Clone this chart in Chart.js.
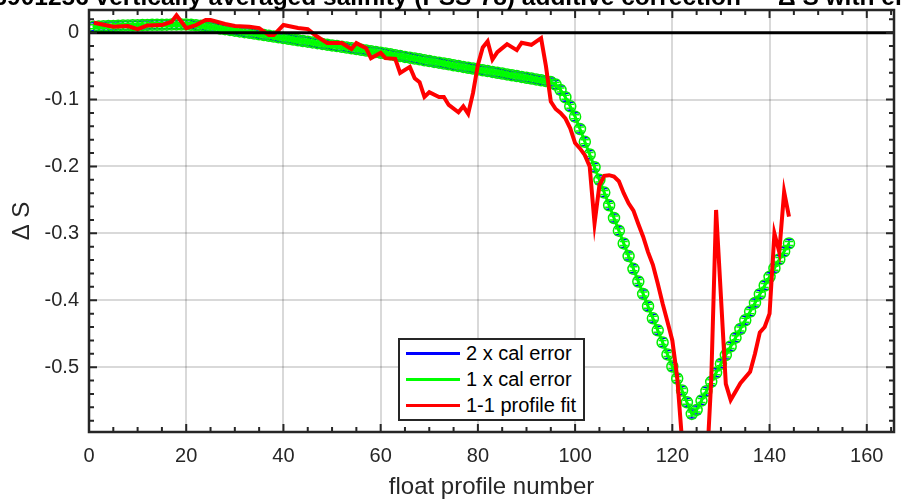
<!DOCTYPE html>
<html>
<head>
<meta charset="utf-8">
<script src="https://cdn.jsdelivr.net/npm/chart.js@4.4.1/dist/chart.umd.min.js"></script>
<style>
html, body { margin: 0; padding: 0; background: #fff; }
#wrap { position: relative; width: 901px; height: 504px; overflow: hidden; }
#legend {
    position: absolute; left: 398px; top: 338px; width: 187px; height: 83px;
    box-sizing: border-box; border: 2.5px solid #262626; background: #fff;
    font: 20px 'Liberation Sans', Arial, sans-serif; color: #000;
}
#legend .item { display: flex; align-items: center; height: 26px; white-space: nowrap; }
#legend .swatch { display: inline-block; width: 54px; height: 3px; margin-left: 6px; margin-right: 6px; }
</style>
</head>
<body>
<div id="wrap">
    <canvas id="chart" width="901" height="504"></canvas>
    <div id="legend"></div>
</div>
<script>
const FONT = "'Liberation Sans', Arial, sans-serif";

// axis limits and ticks
const X_MIN = 0;
const X_MAX = 165.6;
const Y_MIN = -0.597;
const Y_MAX = 0.034;
const xTickValues = [0, 5, 10, 15, 20, 25, 30, 35, 40, 45, 50, 55, 60, 65, 70, 75, 80, 85, 90, 95, 100,
    105, 110, 115, 120, 125, 130, 135, 140, 145, 150, 155, 160, 165];
const yTickValues = [-0.58, -0.56, -0.54, -0.52, -0.5, -0.48, -0.46, -0.44, -0.42, -0.4, -0.38, -0.36, -0.34,
    -0.32, -0.3, -0.28, -0.26, -0.24, -0.22, -0.2, -0.18, -0.16, -0.14, -0.12, -0.1, -0.08, -0.06, -0.04,
    -0.02, 0, 0.02];

// calibration curve (one value per float profile)
const profileNo = [1, 2, 3, 4, 5, 6, 7, 8, 9, 10, 11, 12, 13, 14, 15, 16, 17, 18, 19, 20, 21, 22, 23, 24, 25,
    26, 27, 28, 29, 30, 31, 32, 33, 34, 35, 36, 37, 38, 39, 40, 41, 42, 43, 44, 45, 46, 47, 48, 49, 50, 51, 52,
    53, 54, 55, 56, 57, 58, 59, 60, 61, 62, 63, 64, 65, 66, 67, 68, 69, 70, 71, 72, 73, 74, 75, 76, 77, 78, 79,
    80, 81, 82, 83, 84, 85, 86, 87, 88, 89, 90, 91, 92, 93, 94, 95, 96, 97, 98, 99, 100, 101, 102, 103, 104,
    105, 106, 107, 108, 109, 110, 111, 112, 113, 114, 115, 116, 117, 118, 119, 120, 121, 122, 123, 124, 125,
    126, 127, 128, 129, 130, 131, 132, 133, 134, 135, 136, 137, 138, 139, 140, 141, 142, 143, 144];
const calMean = [
    0.0090, 0.0093, 0.0096, 0.0099, 0.0102, 0.0105, 0.0107, 0.0109, 0.0111, 0.0113,
    0.0115, 0.0117, 0.0118, 0.0119, 0.0120, 0.0121, 0.0122, 0.0123, 0.0123, 0.0122,
    0.0118, 0.0112, 0.0105, 0.0097, 0.0086, 0.0075, 0.0064, 0.0053, 0.0042, 0.0031,
    0.0020, 0.0009, -0.0002, -0.0013, -0.0024, -0.0035, -0.0046, -0.0057, -0.0068, -0.0079,
    -0.0090, -0.0101, -0.0112, -0.0123, -0.0134, -0.0145, -0.0156, -0.0167, -0.0178, -0.0189,
    -0.0200, -0.0211, -0.0222, -0.0233, -0.0244, -0.0255, -0.0266, -0.0277, -0.0288, -0.0299,
    -0.0311, -0.0323, -0.0336, -0.0348, -0.0361, -0.0373, -0.0386, -0.0398, -0.0411, -0.0423,
    -0.0436, -0.0448, -0.0461, -0.0473, -0.0486, -0.0498, -0.0511, -0.0523, -0.0536, -0.0548,
    -0.0561, -0.0573, -0.0586, -0.0598, -0.0611, -0.0623, -0.0636, -0.0648, -0.0661, -0.0673,
    -0.0686, -0.0698, -0.0711, -0.0723, -0.0738, -0.0775, -0.0855, -0.0965, -0.1100, -0.1255,
    -0.1440, -0.1630, -0.1820, -0.2010, -0.2200, -0.2390, -0.2580, -0.2770, -0.2960, -0.3150,
    -0.3340, -0.3530, -0.3720, -0.3905, -0.4090, -0.4270, -0.4450, -0.4630, -0.4810, -0.4990,
    -0.5170, -0.5350, -0.5525, -0.5700, -0.5640, -0.5500, -0.5360, -0.5220, -0.5085, -0.4950,
    -0.4820, -0.4690, -0.4560, -0.4430, -0.4300, -0.4170, -0.4040, -0.3910, -0.3780, -0.3650,
    -0.3520, -0.3390, -0.3270, -0.3150];
const calErr = 0.003;

// 1-1 profile fit
const fitX = [1, 3, 5, 8, 10, 12, 15, 17, 18, 20, 22, 24, 25, 28, 30, 33, 35, 37, 38, 40, 43, 45, 46, 47, 49,
    52, 54, 55, 57, 58, 60, 61, 63, 64, 66, 67, 68, 69, 70, 72, 73, 74, 76, 77, 78, 79, 80, 81, 82, 83, 84, 86,
    88, 89, 91, 93, 94, 95, 96, 97, 98, 99, 100, 101, 102, 103, 104, 105, 106, 107, 108, 109, 110, 111, 112,
    113, 114, 115, 116, 117, 118, 119, 120, 121, 122, 123, 124, 125, 126, 127, 128, 129, 130, 131, 132, 134,
    136, 137, 138, 139, 140, 141, 142, 143, 144];
const fitY = [0.015, 0.012, 0.009, 0.010, 0.0055, 0.011, 0.0115, 0.0165, 0.026, 0.007, 0.0115, 0.019, 0.019,
    0.013, 0.010, 0.009, 0.007, -0.0035, -0.0035, 0.0115, 0.007, 0.0055, -0.0005, -0.006, -0.0155,
    -0.0155, -0.0245, -0.0155, -0.023, -0.038, -0.030, -0.038, -0.039, -0.060, -0.051, -0.068, -0.074,
    -0.096, -0.089, -0.096, -0.096, -0.108, -0.119, -0.110, -0.121, -0.090, -0.048, -0.022, -0.013, -0.040,
    -0.029, -0.017, -0.026, -0.015, -0.018, -0.008, -0.050, -0.103, -0.114, -0.120, -0.128, -0.143, -0.165,
    -0.173, -0.183, -0.200, -0.285, -0.228, -0.214, -0.213, -0.215, -0.222, -0.240, -0.255, -0.266, -0.286,
    -0.305, -0.328, -0.347, -0.375, -0.405, -0.432, -0.460, -0.515, -0.610, -0.720, -0.780, -0.780, -0.740,
    -0.660, -0.520, -0.265, -0.395, -0.525, -0.549, -0.524, -0.507, -0.480, -0.448, -0.440, -0.420, -0.300,
    -0.328, -0.238, -0.275];

const titleLeft = '6901256 vertically averaged salinity (PSS-78) additive correction';
const titleRight = '\u0394 S with errors';

const calPoints = profileNo.map((p, i) => ({ x: p, y: calMean[i] }));
const fitPoints = fitX.map((p, i) => ({ x: p, y: fitY[i] }));

// MATLAB style box: inward ticks on all sides, error bars, cropped title
const axesBox = {
    id: 'axesBox',
    afterDatasetDraw(chart, args) {
        const ds = chart.data.datasets[args.index];
        if (!ds.errScale) return;
        const { ctx, scales: { x, y } } = chart;
        ctx.save();
        ctx.strokeStyle = ds.borderColor;
        ctx.lineWidth = 1.5;
        ctx.beginPath();
        profileNo.forEach((p, i) => {
            const px = x.getPixelForValue(p);
            const lo = y.getPixelForValue(calMean[i] - ds.errScale * calErr);
            const hi = y.getPixelForValue(calMean[i] + ds.errScale * calErr);
            ctx.moveTo(px, lo); ctx.lineTo(px, hi);
            ctx.moveTo(px - 4, lo); ctx.lineTo(px + 4, lo);
            ctx.moveTo(px - 4, hi); ctx.lineTo(px + 4, hi);
        });
        ctx.stroke();
        ctx.restore();
    },
    afterDraw(chart) {
        const { ctx, chartArea: a, scales: { x, y } } = chart;
        ctx.save();
        ctx.strokeStyle = '#262626';
        ctx.lineWidth = 2;
        ctx.beginPath();
        xTickValues.forEach(v => {
            const px = x.getPixelForValue(v);
            const len = v % 20 === 0 ? 8 : 5;
            ctx.moveTo(px, a.bottom); ctx.lineTo(px, a.bottom - len);
            ctx.moveTo(px, a.top); ctx.lineTo(px, a.top + len);
        });
        yTickValues.forEach(v => {
            const py = y.getPixelForValue(v);
            const len = Math.round(v * 100) % 10 === 0 ? 8 : 5;
            ctx.moveTo(a.left, py); ctx.lineTo(a.left + len, py);
            ctx.moveTo(a.right, py); ctx.lineTo(a.right - len, py);
        });
        ctx.stroke();
        ctx.lineWidth = 2.5;
        ctx.strokeRect(a.left, a.top, a.right - a.left, a.bottom - a.top);

        ctx.fillStyle = '#000';
        ctx.font = 'bold 24.5px ' + FONT;
        ctx.textBaseline = 'alphabetic';
        ctx.textAlign = 'right';
        ctx.fillText(titleLeft, 741, 5);
        ctx.textAlign = 'left';
        ctx.fillText(titleRight, 778, 5);
        ctx.restore();
    }
};

// legend built from the datasets
const htmlLegend = {
    id: 'htmlLegend',
    afterUpdate(chart) {
        const box = document.getElementById('legend');
        box.innerHTML = '';
        chart.data.datasets.filter(ds => ds.label).forEach(ds => {
            const item = document.createElement('div');
            item.className = 'item';
            const sw = document.createElement('span');
            sw.className = 'swatch';
            sw.style.background = ds.borderColor;
            const txt = document.createElement('span');
            txt.innerText = ds.label;
            item.appendChild(sw);
            item.appendChild(txt);
            box.appendChild(item);
        });
    }
};

const ctx = document.getElementById('chart').getContext('2d');
new Chart(ctx, {
    type: 'line',
    data: {
        datasets: [
            { label: '2 x cal error', data: calPoints, borderColor: '#0000ff', borderWidth: 2, pointRadius: 0, order: 4, errScale: 2 },
            { label: '1 x cal error', data: calPoints, borderColor: '#00ff00', borderWidth: 3, pointRadius: 5.5,
              pointBorderColor: '#00ee00', pointBackgroundColor: 'rgba(0,0,0,0)', pointBorderWidth: 1.5, order: 3, errScale: 1 },
            { label: '1-1 profile fit', data: fitPoints, borderColor: '#ff0000', borderWidth: 4, pointRadius: 0, order: 2, clip: 0 },
            { label: '', data: [{ x: X_MIN, y: 0 }, { x: X_MAX, y: 0 }], borderColor: '#000', borderWidth: 3, pointRadius: 0, order: 1 }
        ]
    },
    options: {
        responsive: false,
        animation: false,
        layout: { padding: { top: 10, right: 4, bottom: 0, left: 0 } },
        plugins: { legend: { display: false }, tooltip: { enabled: false } },
        scales: {
            x: {
                type: 'linear', min: X_MIN, max: X_MAX,
                afterBuildTicks: s => { s.ticks = xTickValues.map(v => ({ value: v })); },
                afterFit: s => { s.height = 72; s.paddingLeft = 0; s.paddingRight = 0; },
                ticks: {
                    autoSkip: false, maxRotation: 0, padding: 12, color: '#262626',
                    font: { family: FONT, size: 20 },
                    callback: v => (v % 20 === 0 ? String(v) : '')
                },
                grid: {
                    drawTicks: false, lineWidth: 2,
                    color: c => (c.tick && c.tick.value % 20 === 0 && c.tick.value > 0) ? 'rgba(0,0,0,0.15)' : 'rgba(0,0,0,0)'
                },
                border: { display: false },
                title: { display: true, text: 'float profile number', color: '#262626', font: { family: FONT, size: 24 }, padding: { top: 0, bottom: 2 } }
            },
            y: {
                type: 'linear', min: Y_MIN, max: Y_MAX,
                afterBuildTicks: s => { s.ticks = yTickValues.map(v => ({ value: v })); },
                afterFit: s => { s.width = 89; s.paddingTop = 0; s.paddingBottom = 0; },
                ticks: {
                    autoSkip: false, padding: 10, color: '#262626',
                    font: { family: FONT, size: 20 },
                    callback: v => {
                        const r = Math.round(v * 100);
                        if (r % 10 !== 0) return '';
                        return r === 0 ? '0' : (r / 100).toFixed(1);
                    }
                },
                grid: {
                    drawTicks: false, lineWidth: 2,
                    color: c => (c.tick && Math.round(c.tick.value * 100) % 10 === 0) ? 'rgba(0,0,0,0.15)' : 'rgba(0,0,0,0)'
                },
                border: { display: false },
                title: { display: true, text: '\u0394 S', color: '#262626', font: { family: FONT, size: 24 }, padding: { top: 8, bottom: 0 } }
            }
        }
    },
    plugins: [axesBox, htmlLegend]
});
</script>
</body>
</html>
